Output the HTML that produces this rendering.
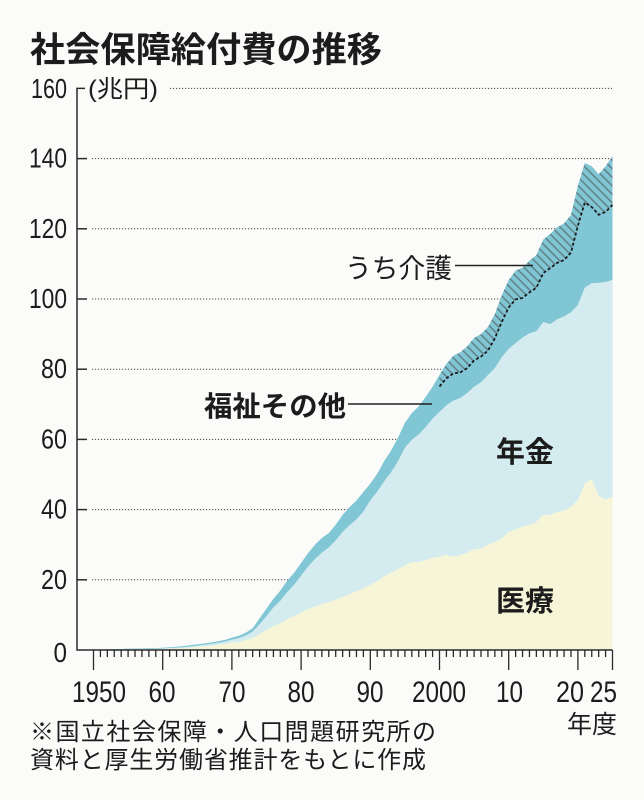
<!DOCTYPE html>
<html>
<head>
<meta charset="utf-8">
<style>
html,body{margin:0;padding:0;background:#fbfbf9;}
svg{display:block;}
.cjk{font-family:"Liberation Sans","Noto Sans CJK JP",sans-serif;fill:#1c1c1c;}
.num{font-family:"Liberation Sans",sans-serif;fill:#1c1c1c;}
</style>
</head>
<body>
<svg id="svg" width="644" height="800" viewBox="0 0 644 800" xmlns="http://www.w3.org/2000/svg">
<defs>
<pattern id="hatch" patternUnits="userSpaceOnUse" width="6" height="6" patternTransform="rotate(-45)">
<rect width="6" height="6" fill="#80c6d4"/>
<line x1="1.5" y1="0" x2="1.5" y2="6" stroke="#5e7a82" stroke-width="1.4"/>
</pattern>
</defs>
<rect width="644" height="800" fill="#fbfbf9"/>

<!-- title -->
<text class="cjk" x="30" y="62" font-size="35" font-weight="700" textLength="352" lengthAdjust="spacingAndGlyphs">社会保障給付費の推移</text>

<!-- gridlines -->
<g stroke="#444" stroke-width="1" stroke-dasharray="1.2 1.8" fill="none">
<line x1="170" y1="88.4" x2="612" y2="88.4"/>
<line x1="92" y1="158.6" x2="612" y2="158.6"/>
<line x1="92" y1="228.8" x2="612" y2="228.8"/>
<line x1="92" y1="299" x2="612" y2="299"/>
<line x1="92" y1="369.2" x2="612" y2="369.2"/>
<line x1="92" y1="439.4" x2="612" y2="439.4"/>
<line x1="92" y1="509.6" x2="612" y2="509.6"/>
<line x1="92" y1="579.8" x2="612" y2="579.8"/>
</g>

<g id="areas"></g>

<!-- axes -->
<g stroke="#2a2a2a" stroke-width="1.5" fill="none">
<polyline points="85,88.4 77,88.4 77,650 612.5,650"/>
<line x1="77" y1="158.6" x2="87" y2="158.6"/>
<line x1="77" y1="228.8" x2="87" y2="228.8"/>
<line x1="77" y1="299" x2="87" y2="299"/>
<line x1="77" y1="369.2" x2="87" y2="369.2"/>
<line x1="77" y1="439.4" x2="87" y2="439.4"/>
<line x1="77" y1="509.6" x2="87" y2="509.6"/>
<line x1="77" y1="579.8" x2="87" y2="579.8"/>
</g>
<g id="ticks" stroke="#2a2a2a" stroke-width="1.3"></g>

<!-- y labels -->
<g class="num" font-size="28" text-anchor="end">
<text x="67" y="98" textLength="36" lengthAdjust="spacingAndGlyphs">160</text>
<text x="67" y="167.6" textLength="38" lengthAdjust="spacingAndGlyphs">140</text>
<text x="67" y="237.8" textLength="38" lengthAdjust="spacingAndGlyphs">120</text>
<text x="67" y="308" textLength="38" lengthAdjust="spacingAndGlyphs">100</text>
<text x="67" y="378.2" textLength="26" lengthAdjust="spacingAndGlyphs">80</text>
<text x="67" y="448.4" textLength="26" lengthAdjust="spacingAndGlyphs">60</text>
<text x="67" y="518.6" textLength="26" lengthAdjust="spacingAndGlyphs">40</text>
<text x="67" y="588.8" textLength="26" lengthAdjust="spacingAndGlyphs">20</text>
<text x="67" y="662" textLength="13.5" lengthAdjust="spacingAndGlyphs">0</text>
</g>
<text class="cjk" x="88" y="97" font-size="24" textLength="70" lengthAdjust="spacingAndGlyphs">(兆円)</text>

<!-- x labels -->
<g class="num" font-size="30">
<text x="72" y="702" textLength="54" lengthAdjust="spacingAndGlyphs">1950</text>
<text x="148.5" y="702" textLength="27" lengthAdjust="spacingAndGlyphs">60</text>
<text x="218.5" y="702" textLength="27" lengthAdjust="spacingAndGlyphs">70</text>
<text x="287.5" y="702" textLength="27" lengthAdjust="spacingAndGlyphs">80</text>
<text x="356.5" y="702" textLength="27" lengthAdjust="spacingAndGlyphs">90</text>
<text x="412" y="702" textLength="54" lengthAdjust="spacingAndGlyphs">2000</text>
<text x="496" y="702" textLength="27" lengthAdjust="spacingAndGlyphs">10</text>
<text x="556" y="702" textLength="28" lengthAdjust="spacingAndGlyphs">20</text>
<text x="590" y="702" textLength="27" lengthAdjust="spacingAndGlyphs">25</text>
</g>
<text class="cjk" x="567" y="733" font-size="25" textLength="50" lengthAdjust="spacingAndGlyphs">年度</text>

<!-- labels inside chart -->
<text class="cjk" x="345" y="278" font-size="27" textLength="107" lengthAdjust="spacingAndGlyphs">うち介護</text>
<line x1="455" y1="265.5" x2="533" y2="265.5" stroke="#222" stroke-width="1.5"/>
<text class="cjk" x="204" y="416" font-size="28" font-weight="700" textLength="142" lengthAdjust="spacingAndGlyphs">福祉その他</text>
<line x1="348" y1="404" x2="432" y2="404" stroke="#222" stroke-width="1.5"/>
<text class="cjk" x="496" y="462" font-size="29" font-weight="700" textLength="58" lengthAdjust="spacingAndGlyphs">年金</text>
<text class="cjk" x="496" y="611" font-size="29" font-weight="700" textLength="58" lengthAdjust="spacingAndGlyphs">医療</text>

<!-- footnote -->
<text class="cjk" x="30" y="740" font-size="24" textLength="406">※国立社会保障・人口問題研究所の</text>
<text class="cjk" x="30" y="768" font-size="24" textLength="396">資料と厚生労働省推計をもとに作成</text>
</svg>
<script>
(function(){
var ns="http://www.w3.org/2000/svg";
var T=[0.13,0.16,0.20,0.26,0.30,0.39,0.41,0.44,0.50,0.58,
0.65,0.78,0.93,1.11,1.38,1.60,1.87,2.15,2.48,2.88,
3.52,4.07,4.90,6.20,9.00,11.8,14.6,16.9,19.8,22.0,
24.8,27.6,30.0,31.9,33.3,35.7,38.5,40.7,42.6,45.0,
47.4,50.2,53.8,56.8,60.5,64.7,67.5,69.4,72.1,75.0,
78.4,81.5,83.8,84.8,86.5,88.9,90.0,92.0,95.7,101.0,
105.4,108.1,108.9,110.9,112.5,116.9,118.5,120.4,121.5,123.9,
132.2,138.7,137.8,135.5,137.8,140.7];
var M=[0.06,0.08,0.10,0.12,0.13,0.15,0.16,0.18,0.21,0.25,
0.29,0.35,0.43,0.53,0.68,0.90,1.05,1.25,1.45,1.70,
2.06,2.30,2.80,3.40,4.50,5.70,6.70,7.60,8.80,9.70,
10.7,11.6,12.4,13.1,13.6,14.3,15.1,15.9,16.7,17.6,
18.6,19.6,21.0,22.0,23.0,24.1,25.0,25.1,25.5,26.3,
26.6,27.1,26.6,27.0,27.7,28.7,28.9,30.0,30.8,31.7,
33.6,34.3,35.1,35.6,36.5,38.5,38.4,39.4,39.7,40.7,
42.7,47.4,48.7,43.8,42.9,43.6];
var P=[0.01,0.02,0.02,0.03,0.03,0.04,0.05,0.07,0.09,0.11,
0.14,0.17,0.20,0.24,0.28,0.32,0.40,0.47,0.56,0.67,
0.86,1.03,1.30,1.80,2.80,3.90,5.40,6.40,7.70,8.90,
10.5,12.1,13.5,14.6,15.6,16.9,18.5,19.6,20.5,21.8,
24.0,25.5,27.0,28.6,30.7,33.5,34.9,36.3,38.0,39.6,
41.2,42.6,44.4,44.8,45.5,46.3,47.4,48.3,49.5,51.7,
52.2,53.1,53.9,54.6,54.3,54.9,54.4,54.8,55.3,55.5,
55.6,55.8,55.8,60.8,61.9,61.8];
var K=[3.3,4.1,5.0,5.7,6.2,6.4,6.4,6.7,6.9,7.5,7.8,8.2,8.6,9.0,9.3,9.5,9.7,10.1,10.4,10.7,11.3,11.2,11.6,11.5,13.0,13.9];
var N=T.length;
function kf(i){return i>=50?K[i-50]:0;}
function X(i){return (93.5+i*6.92).toFixed(2);}
function Y(v){return (650-v*3.51).toFixed(2);}
function area(top,bot,i0,i1){
  var d="M"+X(i0)+","+Y(top(i0));
  for(var i=i0+1;i<=i1;i++){d+=" L"+X(i)+","+Y(top(i));}
  for(var j=i1;j>=i0;j--){d+=" L"+X(j)+","+Y(bot(j));}
  return d+" Z";
}
function line(f,i0,i1){
  var d="M"+X(i0)+","+Y(f(i0));
  for(var i=i0+1;i<=i1;i++){d+=" L"+X(i)+","+Y(f(i));}
  return d;
}
var g=document.getElementById("areas");
function add(tag,attrs,parent){var e=document.createElementNS(ns,tag);for(var k in attrs)e.setAttribute(k,attrs[k]);(parent||g).appendChild(e);return e;}
add("path",{d:area(function(i){return T[i];},function(i){return M[i]+P[i];},0,N-1),fill:"#80c6d4"});
add("path",{d:area(function(i){return M[i]+P[i];},function(i){return M[i];},0,N-1),fill:"#d4ebef"});
add("path",{d:area(function(i){return M[i];},function(i){return 0;},0,N-1),fill:"#f6f5d8"});
add("path",{d:area(function(i){return T[i];},function(i){return T[i]-kf(i);},50,N-1),fill:"url(#hatch)"});
add("path",{d:line(function(i){return T[i]-kf(i);},50,N-1),fill:"none",stroke:"#1a1a1a","stroke-width":"1.8","stroke-dasharray":"3 2.2"});
var tg=document.getElementById("ticks");
for(var y=0;y<=75;y++){
  var x=93.5+y*6.92;
  var major=(y%10===0)||y===75;
  add("line",{x1:x.toFixed(2),y1:"650",x2:x.toFixed(2),y2:major?"670":"657"},tg);
}
})();
</script>
</body>
</html>
